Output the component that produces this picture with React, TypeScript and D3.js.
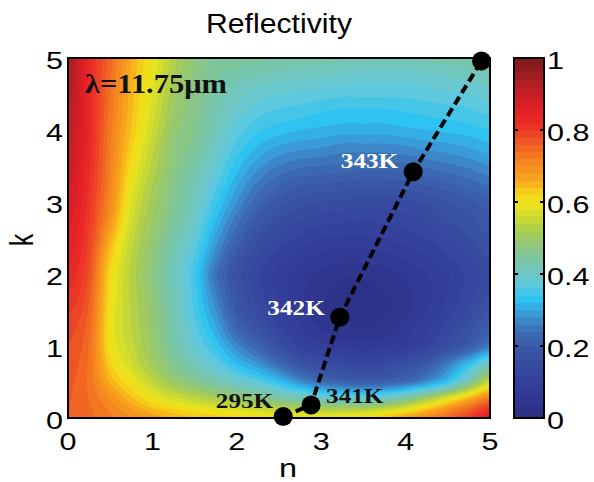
import React, { useMemo } from "react";
import * as d3 from "d3";

// grid of the reflectivity map (n along x, k along y)
const nGrid = [0, 0.25, 0.5, 0.75, 1, 1.25, 1.5, 1.75, 2, 2.25, 2.5, 2.75, 3, 3.25, 3.5, 3.75, 4, 4.25, 4.5, 4.75, 5];
const kGrid = [0, 0.25, 0.5, 0.75, 1, 1.25, 1.5, 1.75, 2, 2.25, 2.5, 2.75, 3, 3.25, 3.5, 3.75, 4, 4.25, 4.5, 4.75, 5];

// reflectivity, one row per k value (k = 0 first)
const reflectivity = [
  [0.76, 0.745, 0.725, 0.7, 0.675, 0.655, 0.64, 0.63, 0.62, 0.615, 0.61, 0.605, 0.6, 0.605, 0.615, 0.64, 0.67, 0.71, 0.75, 0.8, 0.86],
  [0.762, 0.74, 0.7, 0.65, 0.605, 0.575, 0.55, 0.53, 0.51, 0.485, 0.46, 0.44, 0.425, 0.415, 0.415, 0.43, 0.47, 0.53, 0.6, 0.67, 0.74],
  [0.765, 0.735, 0.655, 0.6, 0.545, 0.5, 0.465, 0.435, 0.4, 0.37, 0.33, 0.28, 0.24, 0.22, 0.21, 0.215, 0.24, 0.28, 0.34, 0.44, 0.56],
  [0.772, 0.735, 0.625, 0.565, 0.51, 0.46, 0.415, 0.375, 0.325, 0.285, 0.235, 0.185, 0.155, 0.145, 0.14, 0.145, 0.165, 0.2, 0.26, 0.33, 0.41],
  [0.78, 0.738, 0.605, 0.548, 0.495, 0.44, 0.385, 0.335, 0.27, 0.22, 0.165, 0.115, 0.09, 0.075, 0.07, 0.075, 0.09, 0.12, 0.16, 0.205, 0.26],
  [0.79, 0.745, 0.6, 0.54, 0.49, 0.43, 0.368, 0.305, 0.225, 0.175, 0.125, 0.085, 0.06, 0.045, 0.04, 0.05, 0.07, 0.095, 0.13, 0.17, 0.21],
  [0.805, 0.755, 0.605, 0.538, 0.485, 0.425, 0.355, 0.28, 0.195, 0.145, 0.1, 0.07, 0.045, 0.03, 0.025, 0.035, 0.055, 0.08, 0.11, 0.145, 0.18],
  [0.82, 0.765, 0.61, 0.535, 0.48, 0.42, 0.35, 0.26, 0.18, 0.13, 0.095, 0.065, 0.045, 0.03, 0.03, 0.04, 0.055, 0.075, 0.1, 0.13, 0.16],
  [0.835, 0.775, 0.615, 0.535, 0.475, 0.415, 0.345, 0.245, 0.17, 0.125, 0.09, 0.07, 0.055, 0.045, 0.045, 0.05, 0.065, 0.08, 0.1, 0.125, 0.15],
  [0.847, 0.785, 0.635, 0.54, 0.48, 0.42, 0.36, 0.27, 0.19, 0.14, 0.11, 0.09, 0.075, 0.07, 0.07, 0.075, 0.085, 0.1, 0.12, 0.14, 0.165],
  [0.858, 0.795, 0.66, 0.55, 0.49, 0.435, 0.38, 0.295, 0.22, 0.165, 0.135, 0.115, 0.1, 0.095, 0.095, 0.1, 0.11, 0.12, 0.14, 0.16, 0.18],
  [0.868, 0.803, 0.69, 0.565, 0.5, 0.45, 0.395, 0.32, 0.25, 0.195, 0.16, 0.14, 0.13, 0.125, 0.12, 0.125, 0.13, 0.14, 0.16, 0.175, 0.195],
  [0.878, 0.81, 0.705, 0.58, 0.51, 0.46, 0.41, 0.345, 0.28, 0.225, 0.19, 0.17, 0.16, 0.155, 0.15, 0.15, 0.155, 0.165, 0.18, 0.195, 0.21],
  [0.888, 0.818, 0.713, 0.595, 0.52, 0.465, 0.42, 0.365, 0.305, 0.255, 0.225, 0.205, 0.2, 0.195, 0.19, 0.19, 0.195, 0.205, 0.215, 0.23, 0.245],
  [0.897, 0.825, 0.718, 0.61, 0.535, 0.475, 0.435, 0.385, 0.33, 0.288, 0.26, 0.245, 0.24, 0.235, 0.23, 0.23, 0.235, 0.245, 0.255, 0.265, 0.28],
  [0.905, 0.83, 0.722, 0.625, 0.545, 0.48, 0.45, 0.4, 0.352, 0.317, 0.295, 0.285, 0.28, 0.27, 0.27, 0.27, 0.275, 0.285, 0.29, 0.3, 0.31],
  [0.913, 0.835, 0.726, 0.638, 0.56, 0.49, 0.46, 0.415, 0.372, 0.343, 0.33, 0.32, 0.315, 0.31, 0.31, 0.31, 0.315, 0.32, 0.325, 0.33, 0.34],
  [0.922, 0.835, 0.731, 0.645, 0.57, 0.5, 0.465, 0.425, 0.392, 0.368, 0.355, 0.35, 0.34, 0.335, 0.335, 0.335, 0.34, 0.345, 0.35, 0.355, 0.365],
  [0.93, 0.835, 0.736, 0.65, 0.58, 0.51, 0.47, 0.435, 0.41, 0.39, 0.38, 0.375, 0.37, 0.365, 0.365, 0.365, 0.365, 0.37, 0.375, 0.38, 0.39],
  [0.94, 0.833, 0.743, 0.655, 0.59, 0.52, 0.475, 0.445, 0.43, 0.42, 0.41, 0.405, 0.4, 0.395, 0.39, 0.39, 0.39, 0.395, 0.4, 0.41, 0.415],
  [0.95, 0.83, 0.75, 0.66, 0.6, 0.53, 0.48, 0.455, 0.45, 0.445, 0.44, 0.435, 0.43, 0.425, 0.42, 0.42, 0.42, 0.425, 0.43, 0.435, 0.44],
];

// temperature trajectory in the n-k plane
const tempN = [2.55, 2.88, 3.22, 4.09, 4.9];
const tempK = [0.02, 0.18, 1.4, 3.42, 4.96];
const tempLabels = ["295K", "341K", "342K", "343K", ""];

const nTicks = [0, 1, 2, 3, 4, 5];
const kTicks = [0, 1, 2, 3, 4, 5];
const cbTicks = [0, 0.2, 0.4, 0.6, 0.8, 1];
const cbTickLabels = ["0", "0.2", "0.4", "0.6", "0.8", "1"];

// jet-like colormap as printed in the figure
const cmapValues = [
  0, 0.05, 0.1, 0.15, 0.2, 0.24, 0.27, 0.3, 0.33, 0.37, 0.4, 0.44, 0.48, 0.52, 0.56, 0.6, 0.63, 0.66,
  0.7, 0.74, 0.78, 0.82, 0.86, 0.9, 0.95, 1,
];
const cmapColors = [
  "#2b2e83", "#2f3690", "#33409a", "#374ba0", "#3a5aa8", "#3d6db5", "#3d86c8", "#37a5df", "#2ec3f0",
  "#5ec8de", "#6ec7c6", "#79c5a5", "#8fc67c", "#a9cd50", "#cfdb2e", "#f0e61b", "#f6cc1a", "#f8a81c",
  "#f68e1f", "#f26f22", "#ee4b25", "#eb2d27", "#e21f26", "#c91f26", "#a01d22", "#7a1a1c",
];

const SANS = "'Liberation Sans', Arial, Helvetica, sans-serif";
const SERIF = "'Liberation Serif', 'Times New Roman', serif";
const SX = 1.3; // the figure's text is stretched horizontally

// Catmull-Rom step
const cr = (p0: number, p1: number, p2: number, p3: number, t: number) =>
  p1 + 0.5 * t * (p2 - p0 + t * (2 * p0 - 5 * p1 + 4 * p2 - p3 + t * (3 * (p1 - p2) + p3 - p0)));

export default function App() {
  const W = 594;
  const H = 482;
  const left = 68, right = 490, top = 58, bottom = 418;
  const cbLeft = 514, cbWidth = 30;

  const x = d3.scaleLinear().domain([0, 5]).range([left, right]);
  const y = d3.scaleLinear().domain([0, 5]).range([bottom, top]);
  const color = d3
    .scaleLinear<string>()
    .domain(cmapValues)
    .range(cmapColors)
    .interpolate(d3.interpolateRgb)
    .clamp(true);

  const step = 0.02;
  const levels = d3.range(0, 1 - 1e-9, step);

  const bands = useMemo(() => {
    const ncol = nGrid.length;
    const nrow = kGrid.length;
    const F = 8;
    const nx = (ncol - 1) * F + 1;
    const ny = (nrow - 1) * F + 1;
    const cl = (v: number, m: number) => Math.max(0, Math.min(m - 1, v));
    const sample = (u: number, v: number) => {
      const c = Math.min(Math.floor(u), ncol - 2);
      const r = Math.min(Math.floor(v), nrow - 2);
      const rows = [-1, 0, 1, 2].map((dr) => {
        const row = reflectivity[cl(r + dr, nrow)];
        const g = (dc: number) => row[cl(c + dc, ncol)];
        return cr(g(-1), g(0), g(1), g(2), u - c);
      });
      return cr(rows[0], rows[1], rows[2], rows[3], v - r);
    };
    const values: number[] = new Array(nx * ny);
    for (let j = 0; j < ny; j++) {
      for (let i = 0; i < nx; i++) values[j * nx + i] = sample(i / F, j / F);
    }
    const contours = d3.contours().size([nx, ny]).thresholds(levels)(values);
    const nOf = d3.scaleLinear().domain([0.5, nx - 0.5]).range([nGrid[0], nGrid[ncol - 1]]);
    const kOf = d3.scaleLinear().domain([0.5, ny - 0.5]).range([kGrid[0], kGrid[nrow - 1]]);
    const path = d3.geoPath(
      d3.geoTransform({
        point(px: number, py: number) {
          (this as any).stream.point(x(nOf(px)), y(kOf(py)));
        },
      })
    );
    return contours.map((c) => ({ d: path(c) || "", fill: color(c.value + step / 2) }));
  }, []);

  const pts = tempN.map((n, i) => [x(n), y(tempK[i])] as [number, number]);
  const line = d3.line()(pts) || "";

  // label placement around each dot
  const labelStyle = [
    { dx: -10, dy: -9, anchor: "end", fill: "#111" },
    { dx: 15, dy: -2, anchor: "start", fill: "#111" },
    { dx: -15, dy: -2, anchor: "end", fill: "#fff" },
    { dx: -15, dy: -4, anchor: "end", fill: "#fff" },
    { dx: 0, dy: 0, anchor: "start", fill: "#111" },
  ];

  return (
    <svg
      width={W}
      height={H}
      style={{ position: "absolute", left: 0, top: 0, background: "#fff" }}
    >
      <defs>
        <clipPath id="plotClip">
          <rect x={left} y={top} width={right - left} height={bottom - top} />
        </clipPath>
      </defs>

      {/* Title */}
      <text
        transform={`translate(279,33) scale(1.12,1)`}
        textAnchor="middle"
        fontFamily={SANS}
        fontSize={27}
      >
        Reflectivity
      </text>

      {/* Filled contours */}
      <g clipPath="url(#plotClip)">
        {bands.map((b, i) => (
          <path key={i} d={b.d} fill={b.fill} stroke="none" />
        ))}
      </g>

      {/* Trajectory */}
      <path d={line} fill="none" stroke="#000" strokeWidth={4} strokeDasharray="9 4.5" />
      {pts.map((p, i) => (
        <circle key={i} cx={p[0]} cy={p[1]} r={9.5} fill="#000" />
      ))}
      {pts.map((p, i) =>
        tempLabels[i] ? (
          <text
            key={i}
            transform={`translate(${p[0] + labelStyle[i].dx},${p[1] + labelStyle[i].dy}) scale(1.2,1)`}
            textAnchor={labelStyle[i].anchor as any}
            fontFamily={SERIF}
            fontWeight="bold"
            fontSize={21}
            fill={labelStyle[i].fill}
          >
            {tempLabels[i]}
          </text>
        ) : null
      )}

      <text
        transform={`translate(85,93) scale(1.15,1)`}
        fontFamily={SERIF}
        fontWeight="bold"
        fontSize={26.5}
        fill="#111"
      >
        λ=11.75μm
      </text>

      {/* Plot frame */}
      <rect x={left} y={top} width={right - left} height={bottom - top} fill="none" stroke="#000" strokeWidth={2} />

      {/* Axis tick labels */}
      {nTicks.map((n) => (
        <text
          key={"n" + n}
          transform={`translate(${x(n)},450) scale(${SX},1)`}
          textAnchor="middle"
          fontFamily={SANS}
          fontSize={23.5}
        >
          {n}
        </text>
      ))}
      {kTicks.map((k) => (
        <text
          key={"k" + k}
          transform={`translate(63,${y(k) + 10.5}) scale(${SX},1)`}
          textAnchor="end"
          fontFamily={SANS}
          fontSize={23.5}
        >
          {k}
        </text>
      ))}

      {/* Axis titles */}
      <text transform={`translate(288,477) scale(${SX},1)`} textAnchor="middle" fontFamily={SANS} fontSize={25}>
        n
      </text>
      <text
        transform={`translate(33,240) scale(${SX},1) rotate(-90)`}
        textAnchor="middle"
        fontFamily={SANS}
        fontSize={25}
      >
        k
      </text>

      {/* Colorbar */}
      {levels.map((t, i) => (
        <rect
          key={i}
          x={cbLeft}
          y={y(5 * (t + step)) - 0.4}
          width={cbWidth}
          height={y(5 * t) - y(5 * (t + step)) + 0.8}
          fill={color(t + step / 2)}
        />
      ))}
      <rect x={cbLeft} y={top} width={cbWidth} height={bottom - top} fill="none" stroke="#000" strokeWidth={2} />
      {cbTicks.slice(1, -1).map((v) => (
        <g key={"cbt" + v}>
          <line x1={cbLeft} x2={cbLeft + 4} y1={y(5 * v)} y2={y(5 * v)} stroke="#000" strokeWidth={2} />
          <line
            x1={cbLeft + cbWidth - 4}
            x2={cbLeft + cbWidth}
            y1={y(5 * v)}
            y2={y(5 * v)}
            stroke="#000"
            strokeWidth={2}
          />
        </g>
      ))}
      {cbTicks.map((v, i) => (
        <text
          key={"cbl" + v}
          transform={`translate(547,${y(5 * v) + 10.5}) scale(${SX},1)`}
          fontFamily={SANS}
          fontSize={23.5}
        >
          {cbTickLabels[i]}
        </text>
      ))}
    </svg>
  );
}
